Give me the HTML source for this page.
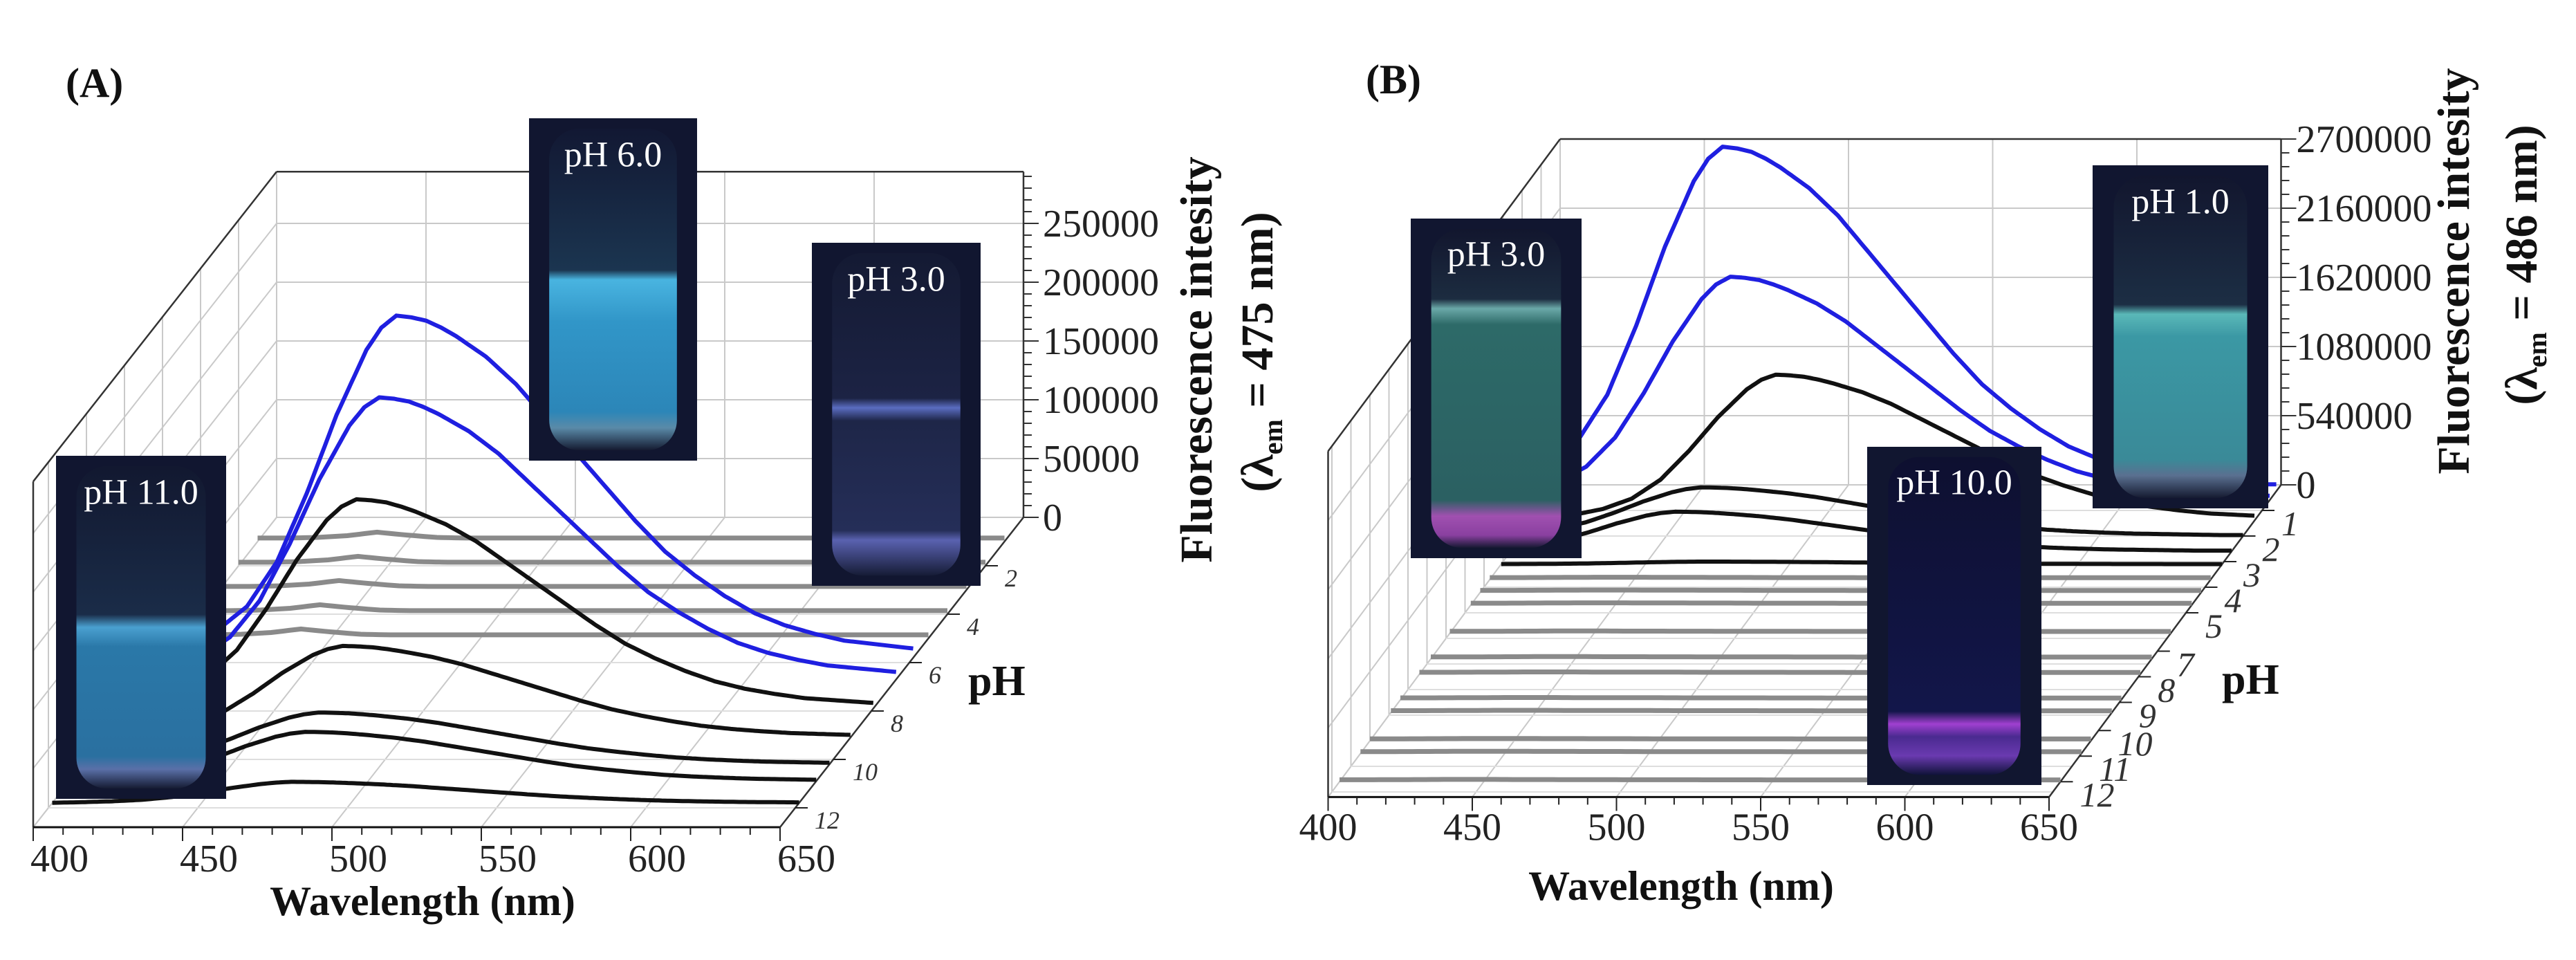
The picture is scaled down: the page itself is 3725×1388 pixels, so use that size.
<!DOCTYPE html>
<html><head><meta charset="utf-8"><style>
html,body{margin:0;padding:0;background:#fff;}
svg{display:block;font-family:"Liberation Serif",serif;}
</style></head><body>
<svg id="fig" width="3725" height="1388" viewBox="0 0 3725 1388" xmlns="http://www.w3.org/2000/svg">
<defs>
<linearGradient id="gA6" x1="0" y1="0" x2="0" y2="1"><stop offset="0" stop-color="#121833"/><stop offset="0.44" stop-color="#1b3550"/><stop offset="0.47" stop-color="#49b4e0"/><stop offset="0.6" stop-color="#3196c8"/><stop offset="0.88" stop-color="#2c86b8"/><stop offset="0.93" stop-color="#5a8aa8"/><stop offset="1" stop-color="#141a30"/></linearGradient>
<linearGradient id="gA3" x1="0" y1="0" x2="0" y2="1"><stop offset="0" stop-color="#141a33"/><stop offset="0.45" stop-color="#1c2344"/><stop offset="0.48" stop-color="#5a6cc0"/><stop offset="0.52" stop-color="#1e2648"/><stop offset="0.86" stop-color="#252e58"/><stop offset="0.89" stop-color="#5a62b0"/><stop offset="1" stop-color="#161c36"/></linearGradient>
<linearGradient id="gA11" x1="0" y1="0" x2="0" y2="1"><stop offset="0" stop-color="#121830"/><stop offset="0.46" stop-color="#1a2c48"/><stop offset="0.5" stop-color="#4aa0d0"/><stop offset="0.56" stop-color="#2a78a8"/><stop offset="0.9" stop-color="#2a70a0"/><stop offset="0.94" stop-color="#5a70a8"/><stop offset="1" stop-color="#151b32"/></linearGradient>
<linearGradient id="gB3" x1="0" y1="0" x2="0" y2="1"><stop offset="0" stop-color="#12162e"/><stop offset="0.22" stop-color="#1c2c40"/><stop offset="0.25" stop-color="#6aa8a8"/><stop offset="0.3" stop-color="#2d6a68"/><stop offset="0.85" stop-color="#2b6062"/><stop offset="0.9" stop-color="#a050b0"/><stop offset="0.96" stop-color="#8a40a0"/><stop offset="1" stop-color="#141830"/></linearGradient>
<linearGradient id="gB1" x1="0" y1="0" x2="0" y2="1"><stop offset="0" stop-color="#12162e"/><stop offset="0.4" stop-color="#1c2e44"/><stop offset="0.43" stop-color="#5ab8b8"/><stop offset="0.5" stop-color="#3b98a4"/><stop offset="0.88" stop-color="#3a8a98"/><stop offset="0.93" stop-color="#5a7090"/><stop offset="1" stop-color="#151a30"/></linearGradient>
<linearGradient id="gB10" x1="0" y1="0" x2="0" y2="1"><stop offset="0" stop-color="#0e1030"/><stop offset="0.8" stop-color="#12164a"/><stop offset="0.84" stop-color="#a040d0"/><stop offset="0.88" stop-color="#4a2a90"/><stop offset="0.94" stop-color="#6a3ab0"/><stop offset="1" stop-color="#10133a"/></linearGradient>
</defs>
<g id="layer"></g>
</svg>
<script>
// ---------- data ----------
const wavelengthTicks = [400, 450, 500, 550, 600, 650];
const profileOffsets = [-80,-70,-60,-50,-40,-30,-20,-10,-5,0,5,10,15,20,30,40,50,60,70,80,90,100,110,120,130,140,150,160,170,180,200,260];
const profileValues  = [0.01,0.04,0.08,0.15,0.28,0.48,0.71,0.90,0.965,1,0.995,0.985,0.965,0.94,0.88,0.80,0.70,0.60,0.50,0.40,0.31,0.24,0.18,0.13,0.095,0.07,0.05,0.04,0.03,0.02,0.02,0.02];
const grayLambdas = [400,410,420,430,440,450,460,470,480,490,500,520,560,600,650];
// panel A
const aTicks = [0, 50000, 100000, 150000, 200000, 250000];
const aTickLabels = ["0","50000","100000","150000","200000","250000"];
const aPhLabels = ["2","4","6","8","10","12"];
const aPhLabelPos = [2,4,6,8,10,12];
const aPeakPH = [5.8, 6.7, 7.9, 9.1, 10.2, 10.9, 11.8];
const aPeakVal = [291000, 240000, 178000, 78000, 44000, 42000, 18000];
const aPeakLambda = [477, 477, 477, 480, 479, 479, 480];
const aPeakColor = ["blue","blue","black","black","black","black","black"];
const aGrayPH = [1, 2, 3, 4, 5];
const aGrayValues = [3000,3000,3500,5000,8000,5500,3500,3000,3000,3000,3000,3000,3000,3000,3000];
// panel B
const bTicks = [0, 540000, 1080000, 1620000, 2160000, 2700000];
const bTickLabels = ["0","540000","1080000","1620000","2160000","2700000"];
const bPhLabels = ["1","2","3","4","5","7","8","9","10","11","12"];
const bPhLabelPos = [1,2,3,4,5,6.5,7.5,8.5,9.6,10.6,11.6];
const bPeakPH = [0.25, 0.6, 1.4, 2.0, 2.6, 3.1];
const bPeakVal = [2690000, 1745000, 1140000, 380000, 310000, 20000];
const bPeakLambda = [458, 463, 484, 462, 457, 470];
const bPeakColor = ["blue","blue","black","black","black","black"];
const bGrayPH = [3.7, 4.2, 4.7, 5.8, 6.8, 7.4, 8.4, 8.9, 10.0, 10.5, 11.6];
const bGrayValues = [15000,15000,16000,17000,18000,18000,17000,17000,16000,16000,15000,15000,14000,14000,14000];

// ---------- helpers ----------
const NS = "http://www.w3.org/2000/svg";
const layer = document.getElementById("layer");
function mk(tag, attrs, parent){ const e=document.createElementNS(NS,tag); for(const k in attrs) e.setAttribute(k,attrs[k]); (parent||layer).appendChild(e); return e; }
function interp(xs, ys, x){ if(x<=xs[0]) return ys[0]; for(let i=1;i<xs.length;i++){ if(x<=xs[i]){ const t=(x-xs[i-1])/(xs[i]-xs[i-1]); return ys[i-1]+t*(ys[i]-ys[i-1]); } } return ys[ys.length-1]; }

function drawPanel(P){
  const g = mk("g", {});
  
  
  const pr = (lam, ph, I) => [P.bx + (lam-400)*P.sx + ph*P.dx, P.by + ph*P.dy - I*P.sz];
  const line = (a, b, st, w, nm) => { const l = mk("line", {x1:a[0].toFixed(1), y1:a[1].toFixed(1), x2:b[0].toFixed(1), y2:b[1].toFixed(1), stroke:st, "stroke-width":w}, g);
    
     return l; };
  const grid = "#c9c9c9";
  for(const lam of wavelengthTicks) line(pr(lam,0,0), pr(lam,0,P.Imax), grid, 2, "back-wall-gridline");
  for(const t of P.ticks) line(pr(400,0,t), pr(650,0,t), grid, 2, "back-wall-gridline");
  for(const t of P.ticks) line(pr(400,0,t), pr(400,P.D,t), grid, 2, "left-wall-gridline");
  for(const p of P.phPos) line(pr(400,p,0), pr(400,p,P.Imax), grid, 2, "left-wall-gridline");
  for(const lam of wavelengthTicks) line(pr(lam,0,0), pr(lam,P.D,0), grid, 2, "floor-gridline");
  for(const p of P.phPos) line(pr(400,p,0), pr(650,p,0), "#dedede", 2, "floor-gridline");
  line(pr(400,0,P.Imax), pr(650,0,P.Imax), "#333", 2.5, "back-top-edge");
  line(pr(650,0,0), pr(650,0,P.Imax), "#333", 2.5, "z-axis-line");
  line(pr(400,0,P.Imax), pr(400,P.D,P.Imax), "#333", 2.5, "left-top-edge");
  line(pr(400,P.D,0), pr(400,P.D,P.Imax), "#333", 2.5, "left-front-edge");
  line(pr(400,P.D,0), pr(650,P.D,0), "#111", 3, "x-axis-line");
  line(pr(650,0,0), pr(650,P.D,0), "#333", 2.5, "ph-axis-line");
  for(let v=0; v<=P.Imax+1; v+=P.minor){ const a=pr(650,0,v); const major = P.ticks.indexOf(v)>=0; line(a, [a[0]+(major?22:12), a[1]], "#333", 2, "z-tick"); }
  P.ticks.forEach((t,i)=>{ const a=pr(650,0,t); const tx=mk("text",{x:(a[0]+P.zLabelDx).toFixed(1), y:(a[1]+19).toFixed(1), "font-size":56, fill:"#222"}, g); tx.textContent=P.tickLabels[i];
    
     });
  for(let lam=400; lam<=650; lam+=10){ const a=pr(lam,P.D,0); line(a,[a[0],a[1]+(lam%50===0?20:11)], "#222", 2, "x-tick"); }
  wavelengthTicks.forEach(lam=>{ const a=pr(lam,P.D,0); const tx=mk("text",{x:(a[0]+P.xLabelDx).toFixed(1), y:(a[1]+P.xLabelDy).toFixed(1), "font-size":56, "text-anchor":"middle", fill:"#222"}, g); tx.textContent=String(lam);
    
     });
  P.phLabels.forEach((lb,i)=>{ const a=pr(650,P.phLabelPos[i],0); line(a,[a[0]+18,a[1]],"#222",2,"ph-tick");
    const tx=mk("text",{x:(a[0]+P.phDx).toFixed(1), y:(a[1]+P.phDy).toFixed(1), "font-size":P.phFont, "font-style":"italic", fill:"#333"}, g); tx.textContent=lb;
    
     });
  P.grayPH.forEach(ph=>{ let d=""; for(let lam=400; lam<=650; lam+=2){ const a=pr(lam,ph,interp(grayLambdas,P.grayValues,lam)); d+=(lam===400?"M":"L")+a[0].toFixed(1)+" "+a[1].toFixed(1); }
    const p=mk("path",{d:d, fill:"none", stroke:"#8a8a8a", "stroke-width":7}, g);
    
     });
  const order = P.peakPH.map((v,i)=>i).sort((a,b)=>P.peakPH[a]-P.peakPH[b]);
  order.forEach(i=>{ let d=""; for(let lam=400; lam<=650; lam+=1){ const I=P.peakVal[i]*interp(profileOffsets,profileValues,lam-P.peakLambda[i]); const a=pr(lam,P.peakPH[i],I); d+=(lam===400?"M":"L")+a[0].toFixed(1)+" "+a[1].toFixed(1); }
    const p=mk("path",{d:d, fill:"none", stroke:P.peakColor[i]==="blue"?"#1f1fe0":"#111", "stroke-width":6, "stroke-linejoin":"round"}, g);
    
     });
}

drawPanel({name:"panel-a", bx:400, by:748, sx:4.32, dx:-27.5, dy:35, sz:425/250000, D:12.8, Imax:294000, minor:10000,
  ticks:aTicks, tickLabels:aTickLabels, phPos:[2,4,6,8,10,12], phLabels:aPhLabels, phLabelPos:aPhLabelPos, phDx:28, phDy:30, phFont:36,
  zLabelDx:28, xLabelDx:38, xLabelDy:64, grayPH:aGrayPH, grayValues:aGrayValues,
  peakPH:aPeakPH, peakVal:aPeakVal, peakLambda:aPeakLambda, peakColor:aPeakColor});
drawPanel({name:"panel-b", bx:2256, by:701, sx:4.17, dx:-27.5, dy:37, sz:500/2700000, D:12.2, Imax:2700000, minor:108000,
  ticks:bTicks, tickLabels:bTickLabels, phPos:[1,2,3,4,5,6,7,8,9,10,11,12], phLabels:bPhLabels, phLabelPos:bPhLabelPos, phDx:28, phDy:36, phFont:50,
  zLabelDx:22, xLabelDx:0, xLabelDy:62, grayPH:bGrayPH, grayValues:bGrayValues,
  peakPH:bPeakPH, peakVal:bPeakVal, peakLambda:bPeakLambda, peakColor:bPeakColor});

function photo(x,y,w,h,grad,label,nm){
  const g=mk("g",{});
  
  
  mk("rect",{x:x,y:y,width:w,height:h,fill:"#111630"},g);
  mk("rect",{x:x+w*0.12,y:y+h*0.03,width:w*0.76,height:h*0.94,rx:w*0.18,fill:"url(#"+grad+")"},g);
  const t=mk("text",{x:x+w/2,y:y+h*0.14,"font-size":52,fill:"#fff","text-anchor":"middle"},g);
  t.textContent=label;
  
  
}
photo(765,171,243,495,"gA6","pH 6.0","vial-photo-ph6");
photo(1174,351,244,496,"gA3","pH 3.0","vial-photo-ph3-a");
photo(81,659,246,496,"gA11","pH 11.0","vial-photo-ph11");
photo(2040,316,247,491,"gB3","pH 3.0","vial-photo-ph3-b");
photo(3026,239,254,496,"gB1","pH 1.0","vial-photo-ph1");
photo(2700,646,252,489,"gB10","pH 10.0","vial-photo-ph10");

function txt(x,y,s,attrs,nm){ const t=mk("text",Object.assign({x:x,y:y,fill:"#111"},attrs)); t.textContent=s;
  
   return t; }
txt(95,140,"(A)",{"font-size":60,"font-weight":"bold"},"panel-a-label");
txt(1975,135,"(B)",{"font-size":60,"font-weight":"bold"},"panel-b-label");
txt(611,1323,"Wavelength (nm)",{"font-size":60,"font-weight":"bold","text-anchor":"middle"},"x-axis-title-a");
txt(2431,1301,"Wavelength (nm)",{"font-size":60,"font-weight":"bold","text-anchor":"middle"},"x-axis-title-b");
txt(1400,1005,"pH",{"font-size":62,"font-weight":"bold"},"ph-axis-title-a");
txt(3213,1003,"pH",{"font-size":62,"font-weight":"bold"},"ph-axis-title-b");
function ytitle(cx,cy,cx2,cy2,nmval,nm){
  txt(0,0,"Fluorescence intesity",{"font-size":66,"font-weight":"bold","text-anchor":"middle",transform:"translate("+cx+","+cy+") rotate(-90)"},nm+"-line1");
  const t=mk("text",{x:0,y:0,"font-size":66,"font-weight":"bold","text-anchor":"middle",fill:"#111",transform:"translate("+cx2+","+cy2+") rotate(-90)"});
  
  
  const s1=mk("tspan",{},t); s1.textContent="(λ";
  const s2=mk("tspan",{"font-size":40,dy:14},t); s2.textContent="em";
  const s3=mk("tspan",{dy:-14},t); s3.textContent=" = "+nmval+" nm)";
}
ytitle(1752,520,1840,509,"475","y-axis-title-a");
ytitle(3570,392,3668,383,"486","y-axis-title-b");
</script>
</body></html>
